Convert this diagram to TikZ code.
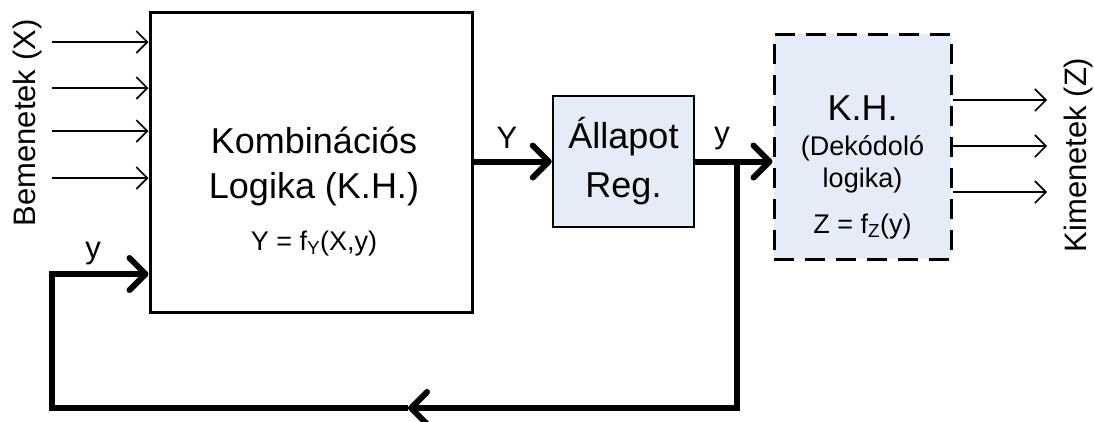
\documentclass[tikz,border=0pt]{standalone}
\usepackage{fontspec}
\setmainfont{Liberation Sans}
\usetikzlibrary{arrows.meta,positioning}
\definecolor{regkitoltes}{RGB}{230,236,247}
\newcommand{\nagybetu}{\fontsize{36}{44}\selectfont}
\newcommand{\kozepbetu}{\fontsize{31}{38}\selectfont}
\newcommand{\kisbetu}{\fontsize{27}{32}\selectfont}
\tikzset{
  doboz/.style={draw, line width=3pt, inner sep=0pt},
  vekony/.style={line width=1.6pt, -{Straight Barb[length=11pt,width=22pt]}},
  vastag/.style={line width=6pt, -{Straight Barb[length=16pt,width=32pt,round]}},
  cimke/.style={font=\kozepbetu, inner sep=0pt, anchor=base},
  szoveg/.style={inner sep=0pt, anchor=base},
}
\begin{document}
\begin{tikzpicture}[x=1pt,y=-1pt]
\useasboundingbox (0,0) rectangle (1094,421);
% dobozok
\node[doboz, minimum width=322pt, minimum height=300pt] (kl) at (311,162) {};
\node[doboz, line width=2.5pt, fill=regkitoltes, minimum width=141pt, minimum height=131pt] (reg) at (623.5,161.5) {};
\node[doboz, dash pattern=on 20pt off 11pt, fill=regkitoltes, minimum width=177pt, minimum height=225pt] (dek) at (862.5,146.5) {};
% szovegek
\node[szoveg, font=\nagybetu] (klnev1) at (314,153) {Kombinációs};
\node[szoveg, font=\nagybetu] (klnev2) at (314,198) {Logika (K.H.)};
\node[szoveg, font=\kisbetu] (klfv) at (314,250) {Y = f\textsubscript{Y}(X,y)};
\node[szoveg, font=\nagybetu] (regnev1) at (623.5,148) {Állapot};
\node[szoveg, font=\nagybetu] (regnev2) at (623.5,197) {Reg.};
\node[szoveg, font=\nagybetu] (deknev) at (862.5,120) {K.H.};
\node[szoveg, font=\kisbetu] (dekmag1) at (862.5,155) {(Dekódoló};
\node[szoveg, font=\kisbetu] (dekmag2) at (862.5,187) {logika)};
\node[szoveg, font=\kisbetu] (dekfv) at (862.5,233) {Z = f\textsubscript{Z}(y)};
\node[font=\kozepbetu, rotate=90, inner sep=0pt] (bemenet) at (27,123) {Bemenetek (X)};
\node[font=\kozepbetu, rotate=90, inner sep=0pt] (kimenet) at (1078,155) {Kimenetek (Z)};
\node[cimke] (nagyY) at (507,148) {Y};
\node[cimke] (kisy1) at (722,143) {y};
\node[cimke] (kisy2) at (93,258) {y};
% bemenetek, kimenetek
\foreach \i/\yy in {1/42,2/88,3/131,4/178}{
  \coordinate (be\i) at (52,\yy);
  \draw[vekony] (be\i) -- (be\i -| kl.west);
}
\foreach \i/\yy in {1/100,2/146,3/192}{
  \coordinate (ki\i) at (1047,\yy);
  \draw[vekony] (ki\i -| dek.east) -- (ki\i);
}
% allapot utak
\coordinate (lent) at (737,408);
\coordinate (visszanyil) at (408,408);
\coordinate (yvissza) at (52,274);
\draw[vastag] (reg.west -| kl.east) -- (reg.west);
\draw[vastag] (reg.east) -- (reg.east -| dek.west);
\draw[vastag] (reg.east -| lent) |- (visszanyil);
\draw[vastag] (visszanyil) -| (yvissza) -- (yvissza -| kl.west);
\end{tikzpicture}
\end{document}
